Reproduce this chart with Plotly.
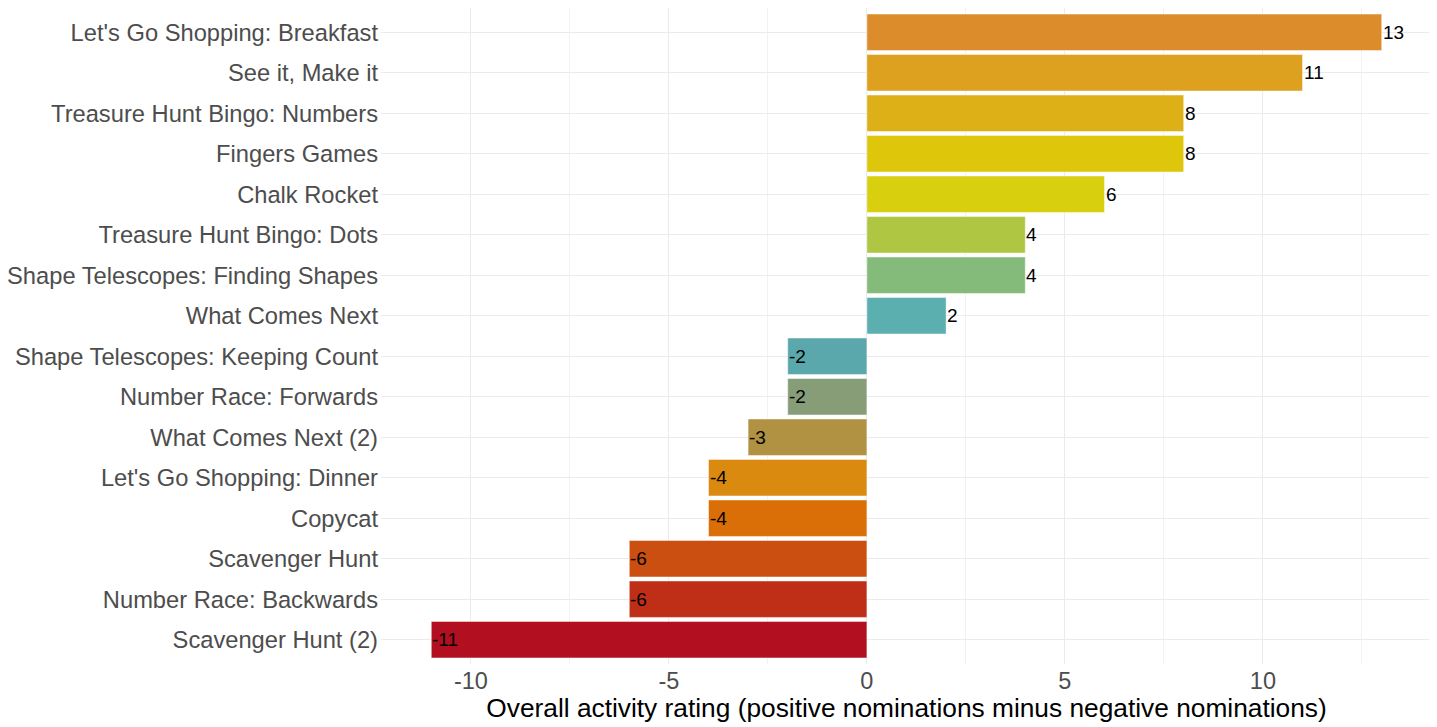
import plotly.graph_objects as go

activities = [
    "Let's Go Shopping: Breakfast",
    "See it, Make it",
    "Treasure Hunt Bingo: Numbers",
    "Fingers Games",
    "Chalk Rocket",
    "Treasure Hunt Bingo: Dots",
    "Shape Telescopes: Finding Shapes",
    "What Comes Next",
    "Shape Telescopes: Keeping Count",
    "Number Race: Forwards",
    "What Comes Next (2)",
    "Let's Go Shopping: Dinner",
    "Copycat",
    "Scavenger Hunt",
    "Number Race: Backwards",
    "Scavenger Hunt (2)",
]
ratings = [13, 11, 8, 8, 6, 4, 4, 2, -2, -2, -3, -4, -4, -6, -6, -11]
bar_colors = [
    "#DD8C2C", "#DDA01F", "#DEB017", "#DEC60B", "#D8CF0E", "#AFC643",
    "#85BB7A", "#5BAFAF", "#5BA8AC", "#869D78", "#B09242", "#DB8A10",
    "#DB6F07", "#CB4F10", "#BF2F18", "#B21020",
]
x_ticks = [-10, -5, 0, 5, 10]
x_minor = [-12.5, -7.5, -2.5, 2.5, 7.5, 12.5]

FONT = "Liberation Sans, Arial, sans-serif"

fig = go.Figure()
fig.add_trace(go.Bar(
    x=ratings,
    y=activities,
    orientation="h",
    marker=dict(color=bar_colors, line=dict(color="rgba(255,255,255,0.45)", width=1)),
    hoverinfo="x+y",
))

for v, a in zip(ratings, activities):
    fig.add_annotation(
        x=v, y=a, text=str(v), showarrow=False, xanchor="left", yanchor="middle",
        font=dict(family=FONT, size=19, color="black"), xshift=-1,
    )

# the page body has an 8px default margin, so the figure is sized to fit the window
fig.update_layout(
    width=1429, height=719,
    margin=dict(l=373, r=5, t=0, b=63),
    paper_bgcolor="white", plot_bgcolor="white",
    bargap=0.1,
    showlegend=False,
    font=dict(family=FONT),
    xaxis=dict(
        range=[-12.27, 14.27],
        automargin=False,
        tickmode="array", tickvals=x_ticks, ticktext=[str(t) for t in x_ticks],
        showgrid=True, gridcolor="#EBEBEB", gridwidth=1,
        minor=dict(tickmode="array", tickvals=x_minor,
                   showgrid=True, gridcolor="#F2F2F2", gridwidth=1),
        zeroline=False, showline=False, ticks="",
        tickfont=dict(family=FONT, size=23.5, color="#4D4D4D"),
        title=dict(text="Overall activity rating (positive nominations minus negative nominations)",
                   font=dict(family=FONT, size=26.3, color="black"), standoff=5),
    ),
    yaxis=dict(
        type="category",
        automargin=False,
        categoryorder="array", categoryarray=activities,
        autorange=False, range=[len(activities) - 0.4, -0.6],
        showgrid=True, gridcolor="#EBEBEB", gridwidth=1,
        zeroline=False, showline=False, ticks="",
        tickfont=dict(family=FONT, size=23.7, color="#4D4D4D"),
        ticklabelstandoff=2,
    ),
)

fig.write_html("out.html")
